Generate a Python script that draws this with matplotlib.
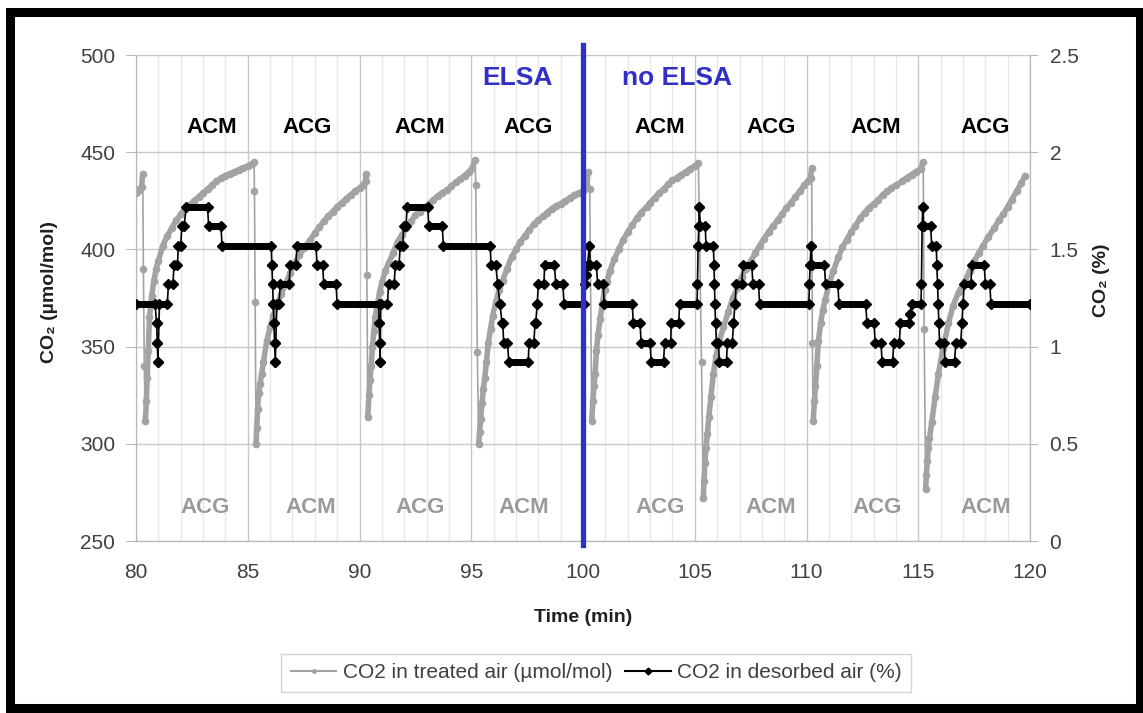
import matplotlib
matplotlib.use("Agg")
import matplotlib.pyplot as plt
from matplotlib.lines import Line2D
from matplotlib.patches import Rectangle

plt.rcParams['font.family'] = ['Liberation Sans', 'DejaVu Sans']

# CO2 in treated air (umol/mol)
gray_t = [80.0, 80.05, 80.1, 80.15, 80.2, 80.25, 80.3, 80.33, 80.37,
          80.42, 80.46, 80.5, 80.55, 80.6, 80.7, 80.8, 80.9, 81.0, 81.2, 81.4, 81.6, 81.8, 82.0,
          82.2, 82.4, 82.6, 82.8, 83.0, 83.2, 83.4, 83.6, 83.8, 84.0, 84.2, 84.4, 84.6, 84.8,
          85.0, 85.2, 85.28, 85.3, 85.33,
          85.37, 85.4, 85.44, 85.48, 85.55, 85.62, 85.7, 85.85, 86.0, 86.15, 86.3, 86.5, 86.7,
          86.9, 87.1, 87.3, 87.5, 87.8, 88.0, 88.2, 88.4, 88.6, 88.8, 89.0, 89.2, 89.4, 89.6,
          89.8, 90.0, 90.15, 90.27, 90.3, 90.33,
          90.37, 90.42, 90.47, 90.52, 90.58, 90.64, 90.7, 90.8, 90.9, 91.0, 91.15, 91.3, 91.5,
          91.7, 91.9, 92.1, 92.3, 92.5, 92.7, 92.9, 93.1, 93.3, 93.5, 93.7, 93.9, 94.1, 94.3,
          94.5, 94.7, 94.9, 95.05, 95.17, 95.2, 95.27,
          95.33, 95.37, 95.42, 95.48, 95.54, 95.6, 95.68, 95.76, 95.86, 95.96, 96.1, 96.25, 96.4,
          96.6, 96.8, 97.0, 97.2, 97.4, 97.6, 97.8, 98.0, 98.2, 98.4, 98.6, 98.8, 99.0, 99.2,
          99.4, 99.6, 99.8, 100.0, 100.15, 100.24, 100.3,
          100.39, 100.44, 100.49, 100.54, 100.6, 100.67, 100.76, 100.86, 100.96, 101.06, 101.2,
          101.4, 101.6, 101.8, 102.0, 102.2, 102.4, 102.6, 102.85, 103.0, 103.2, 103.4, 103.6,
          103.8, 104.0, 104.2, 104.4, 104.6, 104.8, 105.0, 105.16, 105.3,
          105.38, 105.41, 105.45, 105.5, 105.56, 105.63, 105.72, 105.83, 105.95, 106.1, 106.28,
          106.5, 106.7, 106.9, 107.1, 107.3, 107.5, 107.7, 107.9, 108.1, 108.3, 108.5, 108.7,
          108.9, 109.1, 109.3, 109.5, 109.7, 109.9, 110.05, 110.18, 110.23, 110.26,
          110.3, 110.35, 110.4, 110.46, 110.53, 110.63, 110.73, 110.83, 111.0, 111.2, 111.42,
          111.6, 111.8, 112.0, 112.17, 112.4, 112.6, 112.8, 113.0, 113.21, 113.4, 113.6, 113.8,
          114.0, 114.26, 114.5, 114.7, 114.9, 115.1, 115.22, 115.26,
          115.33, 115.36, 115.4, 115.45, 115.5, 115.6, 115.75, 115.9, 116.1, 116.35, 116.55,
          116.8, 117.1, 117.3, 117.5, 117.7, 117.9, 118.14, 118.4, 118.6, 118.8, 119.0, 119.18,
          119.4, 119.6, 119.78]
gray_v = [429, 430, 430, 431, 431, 432, 439, 390, 340,
          312, 322, 334, 348, 365, 376, 384, 390, 394, 402, 407, 411, 415, 418,
          421, 423, 425, 427, 429, 431, 433, 435, 436.5, 438, 439, 440, 441, 442,
          443, 444, 445, 430, 373,
          300, 308, 318, 326, 331, 336, 342, 353, 360, 366, 371, 377, 382.5,
          388, 393, 397, 400.5, 405, 408.5, 411.5, 414.5, 417, 419.5, 422, 424, 426, 428,
          430, 431.5, 433, 435, 439, 387,
          314, 325, 333, 340, 350, 358, 365, 372, 378, 383, 389, 393, 398,
          404, 407.5, 411, 414.5, 417.5, 419.5, 421.5, 423.5, 425.5, 427.5, 429, 430.5, 432.5, 434.5,
          436, 438, 440, 442, 446, 433, 347,
          300, 306, 313, 321, 328, 334, 342, 352, 359, 366, 373, 379, 384,
          390, 396, 400, 404, 407, 410, 413, 415, 417, 419, 421, 422.5, 423.5, 425,
          426.5, 428, 429, 430, 431.5, 440, 431,
          312, 322, 330, 336, 348, 356, 364, 372, 379, 383, 389,
          395, 400, 405, 409, 412.5, 416, 419, 422, 424, 426.5, 429, 431,
          433.5, 435.5, 437, 438.5, 440, 441.5, 443, 444.5, 342,
          272, 281, 290, 298, 305, 314, 324, 336, 345, 353, 360,
          368, 375, 380, 386, 390, 394, 398, 402, 405.5, 409, 412, 415,
          418, 421.5, 424, 427, 430, 433, 435, 437, 442, 352,
          312, 322, 330, 340, 353, 362, 369, 374, 382, 389, 396,
          401, 405, 409, 412, 416, 419, 421.5, 423.5, 425.5, 428, 430, 431.5,
          433, 435, 437, 438.5, 440, 441.5, 445, 359,
          277, 284, 291, 298, 303, 311, 324, 336, 349, 362, 371,
          378, 384, 389, 394, 398, 402, 406.6, 411, 415, 418, 422, 425.5,
          430, 434, 438]

# CO2 in desorbed air (%), read as steps: start, end, level
blk_start = [80.0, 80.92, 80.95, 80.98, 81.05, 81.45, 81.7, 81.9, 82.05, 82.25, 83.25, 83.85,
             86.08, 86.11, 86.14, 86.17, 86.2, 86.23, 86.3, 86.45, 86.9, 87.2, 88.1, 88.4,
             89.0, 90.88, 90.9, 90.92, 90.95, 91.3, 91.6, 91.82, 91.98, 92.13, 93.1, 93.75,
             95.88, 96.18, 96.28, 96.38, 96.45, 96.68, 97.58, 97.85, 97.95, 98.0, 98.28, 98.78,
             99.15, 100.1, 100.13, 100.2, 100.28, 100.33, 100.65, 100.95, 102.25, 102.6, 103.05,
             103.65, 103.95, 104.32, 105.12, 105.15, 105.18, 105.2, 105.25, 105.5, 105.86,
             105.88, 105.9, 105.93, 105.97, 106.1, 106.45, 106.73, 106.8, 106.85, 107.15, 107.6,
             107.9, 110.13, 110.16, 110.2, 110.25, 110.85, 111.45, 112.7, 113.07, 113.38, 113.9,
             114.2, 114.64, 114.7, 115.14, 115.17, 115.2, 115.24, 115.6, 115.83, 115.86, 115.89,
             115.92, 115.95, 116.2, 116.68, 116.95, 117.0, 117.05, 117.4, 118.0, 118.25]
blk_end = [80.85, 80.92, 80.95, 80.98, 81.4, 81.65, 81.85, 82.0, 82.15, 83.2, 83.8, 86.05,
           86.08, 86.11, 86.14, 86.17, 86.2, 86.23, 86.4, 86.85, 87.15, 88.05, 88.35, 88.95,
           90.85, 90.88, 90.9, 90.92, 91.25, 91.55, 91.77, 91.93, 92.08, 93.05, 93.7, 95.85,
           96.1, 96.18, 96.28, 96.41, 96.62, 97.55, 97.8, 97.88, 97.95, 98.25, 98.72, 99.1,
           100.05, 100.1, 100.13, 100.2, 100.28, 100.6, 100.9, 102.2, 102.55, 103.0, 103.6,
           103.92, 104.28, 105.1, 105.12, 105.15, 105.18, 105.2, 105.47, 105.83, 105.86,
           105.88, 105.9, 105.93, 106.05, 106.42, 106.68, 106.73, 106.8, 107.1, 107.55, 107.85,
           110.1, 110.13, 110.16, 110.2, 110.8, 111.4, 112.65, 113.02, 113.33, 113.85, 114.15,
           114.6, 114.64, 115.12, 115.14, 115.17, 115.2, 115.55, 115.8, 115.83, 115.86, 115.89,
           115.92, 116.15, 116.62, 116.9, 116.95, 117.0, 117.35, 117.95, 118.2, 120.0]
blk_level = [1.22, 1.12, 1.02, 0.92, 1.22, 1.32, 1.42, 1.52, 1.62, 1.72, 1.62, 1.52,
             1.42, 1.32, 1.22, 1.12, 1.02, 0.92, 1.22, 1.32, 1.42, 1.52, 1.42, 1.32,
             1.22, 1.12, 1.02, 0.92, 1.22, 1.32, 1.42, 1.52, 1.62, 1.72, 1.62, 1.52,
             1.42, 1.32, 1.22, 1.12, 1.02, 0.92, 1.02, 1.12, 1.22, 1.32, 1.42, 1.32,
             1.22, 1.32, 1.37, 1.42, 1.52, 1.42, 1.32, 1.22, 1.12, 1.02, 0.92,
             1.02, 1.12, 1.22, 1.32, 1.52, 1.62, 1.72, 1.62, 1.52, 1.42,
             1.32, 1.22, 1.12, 1.02, 0.92, 1.02, 1.12, 1.22, 1.32, 1.42, 1.32,
             1.22, 1.32, 1.42, 1.52, 1.42, 1.32, 1.22, 1.12, 1.02, 0.92, 1.02,
             1.12, 1.17, 1.22, 1.32, 1.62, 1.72, 1.62, 1.52, 1.42, 1.32, 1.22,
             1.12, 1.02, 0.92, 1.02, 1.12, 1.22, 1.32, 1.42, 1.32, 1.22]

top_labels = ['ACM', 'ACG', 'ACM', 'ACG', 'ACM', 'ACG', 'ACM', 'ACG']
top_x = [83.4, 87.65, 92.7, 97.55, 103.45, 108.4, 113.1, 118.0]
bottom_labels = ['ACG', 'ACM', 'ACG', 'ACM', 'ACG', 'ACM', 'ACG', 'ACM']
bottom_x = [83.1, 87.8, 92.7, 97.35, 103.45, 108.4, 113.15, 118.0]

GRAY = '#a3a3a3'
BLUE = '#3030c8'
TXT = '#404040'

fig = plt.figure(figsize=(11.43, 7.13), dpi=100)
ax = fig.add_axes([0.119, 0.2412, 0.7822, 0.6816])
ax2 = ax.twinx()

# treated air: thin line through all points, dense dots, thicker band on the rising parts
ax.plot(gray_t, gray_v, color=GRAY, lw=1.2, marker='o', ms=5.5, mec=GRAY, mew=0, zorder=3)
run = [0]
for i in range(1, len(gray_v)):
    if gray_v[i] < gray_v[i - 1] - 5:
        if len(run) > 3:
            ax.plot([gray_t[j] for j in run], [gray_v[j] for j in run],
                    color=GRAY, lw=4, solid_capstyle='round', zorder=3)
        run = []
    run.append(i)
ax.plot([gray_t[j] for j in run], [gray_v[j] for j in run],
        color=GRAY, lw=4, solid_capstyle='round', zorder=3)

# desorbed air: thin connecting line, thick steps, diamond markers
xs, ys = [], []
for s, e, l in zip(blk_start, blk_end, blk_level):
    xs += [s, e]
    ys += [l, l]
ax2.plot(xs, ys, color='black', lw=1.2, zorder=3)
ax2.hlines(blk_level, blk_start, blk_end, color='black', lw=5, capstyle='round', zorder=3)
ax2.plot(xs, ys, ls='none', marker='D', ms=5, color='black', zorder=3)

ax.set_xlim(80, 120)
ax.set_ylim(250, 500)
ax2.set_ylim(0, 2.5)
ax.set_xticks(range(80, 121, 5))
ax.set_xticks(range(80, 121, 1), minor=True)
ax.set_yticks(range(250, 501, 50))
ax2.set_yticks([0, 0.5, 1, 1.5, 2, 2.5])
ax2.set_yticklabels(['0', '0.5', '1', '1.5', '2', '2.5'])

ax.grid(which='major', color='#c8c8c8', lw=1)
ax.grid(which='minor', axis='x', color='#e8e8e8', lw=1)
ax.set_axisbelow(True)

for a in (ax, ax2):
    for sp in a.spines.values():
        sp.set_color('#b8b8b8')
    a.spines['top'].set_visible(False)
ax.tick_params(axis='y', length=7, color='#b8b8b8', labelsize=15, labelcolor=TXT, pad=8)
ax2.tick_params(axis='y', length=6, color='#b8b8b8', labelsize=15, labelcolor=TXT, pad=8)
ax.tick_params(axis='x', which='both', length=0, labelsize=15, labelcolor=TXT, pad=16)

fig.text(50 / 1143, 1 - 292 / 713, 'CO₂ (µmol/mol)', rotation=90, ha='center', va='center',
         fontsize=14, fontweight='bold', color='#202020')
fig.text(1102 / 1143, 1 - 280 / 713, 'CO₂ (%)', rotation=90, ha='center', va='center',
         fontsize=14, fontweight='bold', color='#202020')
fig.text(583 / 1143, 1 - 617 / 713, 'Time (min)', ha='center', va='center',
         fontsize=14, fontweight='bold', color='#202020')

for x, lab in zip(top_x, top_labels):
    ax2.text(x, 2.125, lab, ha='center', va='center', fontsize=16, fontweight='bold',
             color='black', zorder=5)
for x, lab in zip(bottom_x, bottom_labels):
    ax2.text(x, 0.17, lab, ha='center', va='center', fontsize=16, fontweight='bold',
             color='#9a9a9a', zorder=5)

ax2.axvline(100, -0.008, 1.021, color=BLUE, lw=3.8, clip_on=False, zorder=10)
ax2.text(97.05, 2.38, 'ELSA', ha='center', va='center', fontsize=19, fontweight='bold', color=BLUE)
ax2.text(104.2, 2.38, 'no ELSA', ha='center', va='center', fontsize=19, fontweight='bold', color=BLUE)

handles = [Line2D([], [], color=GRAY, lw=1.5, marker='o', ms=3.5, mew=0),
           Line2D([], [], color='black', lw=1.5, marker='D', ms=3.5)]
leg = fig.legend(handles, ['CO2 in treated air (µmol/mol)', 'CO2 in desorbed air (%)'],
                 loc='center', bbox_to_anchor=(596 / 1143, 1 - 673 / 713), ncol=2,
                 fontsize=15, frameon=True, fancybox=False, edgecolor='#c8c8c8',
                 handlelength=2.2, handletextpad=0.3, columnspacing=0.6, borderpad=0.45)
for t in leg.get_texts():
    t.set_color(TXT)

fig.patches.append(Rectangle((9.5 / 1143, 5 / 713), 1130 / 1143, 696 / 713,
                             transform=fig.transFigure, fill=False, lw=6.5,
                             edgecolor='black'))

fig.savefig('out.png', dpi=100)
